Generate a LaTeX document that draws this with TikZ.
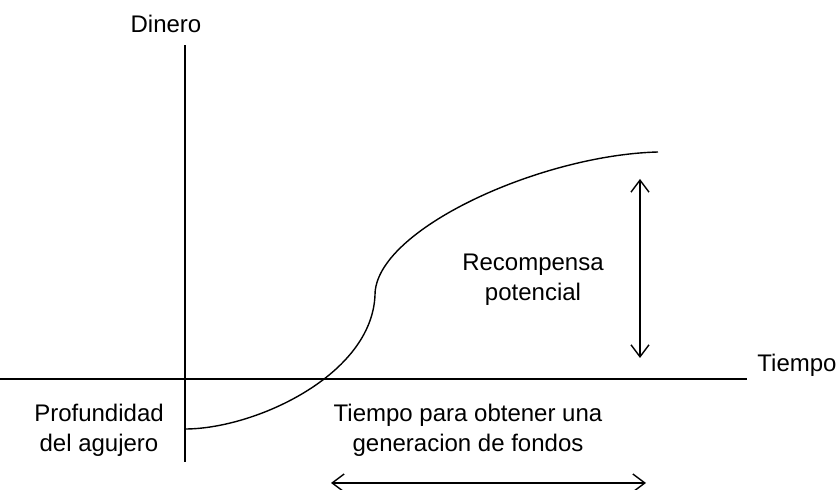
\documentclass[tikz,border=0pt]{standalone}
\usepackage{fontspec}
\setmainfont{Liberation Sans}
\usepackage{tikz}
\usetikzlibrary{arrows.meta}

\tikzset{
    plain text/.style={font=\fontsize{12}{15}\selectfont, inner sep=0pt, align=center},
    span arrow/.style={line width=0.7pt,
        {Straight Barb[length=6pt, width=9pt]}-{Straight Barb[length=6pt, width=9pt]}},
}

\begin{document}
\begin{tikzpicture}[x=0.5pt, y=-0.5pt]
    \useasboundingbox (0, 0) rectangle (837, 490);

    % axes
    \coordinate (ytop) at (185, 45);
    \coordinate (ybot) at (185, 462);
    \coordinate (xleft) at (0, 379);
    \coordinate (xright) at (747, 379);
    \draw [line width=1pt] (ybot) -- (ytop);
    \draw [line width=1pt] (xleft) -- (xright);
    \node [plain text, anchor=north] (dinero) at (166, 15) {Dinero};
    \node [plain text, anchor=north west] (tiempo) at (757, 354) {Tiempo};

    % curve
    \coordinate (start) at (185, 429);
    \coordinate (bend) at (375, 295);
    \coordinate (top) at (658, 152);
    \draw [line width=0.7pt] (start) .. controls (255, 429) and (372, 375) .. (bend)
        .. controls (375, 230) and (540, 155) .. (top);

    % reward
    \coordinate (rtop) at (640, 179);
    \coordinate (rbot) at (640, 358);
    \draw [span arrow] (rbot) -- (rtop);
    \node [plain text, anchor=north] (reward) at (533, 254) {Recompensa\\potencial};

    % depth
    \node [plain text, anchor=north] (depth) at (99, 404) {Profundidad\\del agujero};

    % time span
    \node [plain text, anchor=north] (span) at (468, 404) {Tiempo para obtener una\\generacion de fondos};
    \coordinate (sleft) at (331, 483);
    \coordinate (sright) at (646, 483);
    \draw [span arrow] (sleft) -- (sright);

\end{tikzpicture}
\end{document}
